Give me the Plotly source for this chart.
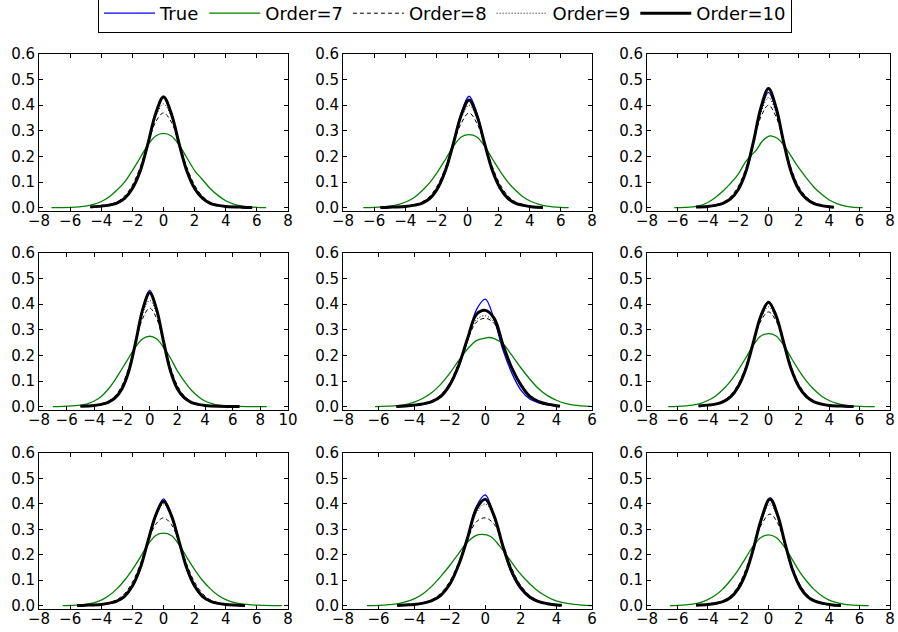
import plotly.graph_objects as go
from plotly.subplots import make_subplots

SERIES_NAMES = ["True", "Order=7", "Order=8", "Order=9", "Order=10"]
Y_TICKS = [0.0, 0.1, 0.2, 0.3, 0.4, 0.5, 0.6]
Y_TICK_LABELS = ["0.0", "0.1", "0.2", "0.3", "0.4", "0.5", "0.6"]

# x-axis tick values per panel (row-major)
P1_XTICKS = [-8, -6, -4, -2, 0, 2, 4, 6, 8]
P2_XTICKS = [-8, -6, -4, -2, 0, 2, 4, 6, 8]
P3_XTICKS = [-8, -6, -4, -2, 0, 2, 4, 6, 8]
P4_XTICKS = [-8, -6, -4, -2, 0, 2, 4, 6, 8, 10]
P5_XTICKS = [-8, -6, -4, -2, 0, 2, 4, 6]
P6_XTICKS = [-8, -6, -4, -2, 0, 2, 4, 6, 8]
P7_XTICKS = [-8, -6, -4, -2, 0, 2, 4, 6, 8]
P8_XTICKS = [-8, -6, -4, -2, 0, 2, 4, 6]
P9_XTICKS = [-8, -6, -4, -2, 0, 2, 4, 6, 8]

# ---------------- Panel 1 ----------------
P1_X = [-4.7, -4, -3.5, -3, -2.5, -2, -1.5, -1, -0.5, 0, 0.5, 1, 1.5, 2, 2.5, 3, 3.5, 4, 5, 5.7]
P1_TRUE = [0.002, 0.005, 0.009, 0.017, 0.035, 0.074, 0.144, 0.252, 0.37, 0.435, 0.37, 0.252, 0.144, 0.074, 0.035, 0.017, 0.009, 0.005, 0.001, 0.0]
P1_ORD10 = [0.003, 0.006, 0.010, 0.018, 0.036, 0.075, 0.142, 0.25, 0.368, 0.432, 0.368, 0.25, 0.143, 0.075, 0.037, 0.017, 0.009, 0.005, 0.002, 0.001]
P1_ORD9 = [0.003, 0.006, 0.011, 0.02, 0.04, 0.08, 0.148, 0.252, 0.355, 0.405, 0.355, 0.25, 0.148, 0.08, 0.04, 0.019, 0.01, 0.005, 0.002, 0.001]
P1_ORD8 = [0.003, 0.007, 0.012, 0.022, 0.045, 0.088, 0.158, 0.252, 0.335, 0.37, 0.335, 0.252, 0.158, 0.088, 0.045, 0.021, 0.011, 0.006, 0.002, 0.001]
P1_GX = [-7.2, -6, -5, -4.5, -4, -3.5, -3, -2.5, -2, -1.5, -1, -0.5, 0, 0.5, 1, 1.5, 2, 2.5, 3, 3.5, 4, 4.5, 5, 6, 6.6]
P1_ORD7 = [0.0, 0.001, 0.006, 0.013, 0.024, 0.042, 0.068, 0.1, 0.145, 0.195, 0.245, 0.28, 0.29, 0.28, 0.245, 0.195, 0.145, 0.11, 0.075, 0.048, 0.027, 0.014, 0.007, 0.001, 0.0]

# ---------------- Panel 2 ----------------
P2_X = [-5.6, -5, -4, -3.4, -2.9, -2.4, -1.9, -1.4, -0.9, -0.4, 0.1, 0.6, 1.1, 1.6, 2.1, 2.6, 3.1, 3.6, 4.1, 4.85]
P2_TRUE = [0.0, 0.001, 0.004, 0.009, 0.017, 0.035, 0.074, 0.144, 0.252, 0.37, 0.435, 0.37, 0.252, 0.144, 0.074, 0.035, 0.017, 0.009, 0.004, 0.001]
P2_ORD10 = [0.001, 0.002, 0.005, 0.01, 0.018, 0.037, 0.078, 0.148, 0.252, 0.362, 0.42, 0.36, 0.25, 0.145, 0.076, 0.036, 0.017, 0.009, 0.004, 0.001]
P2_ORD9 = [0.001, 0.002, 0.005, 0.011, 0.02, 0.04, 0.082, 0.152, 0.252, 0.35, 0.4, 0.35, 0.25, 0.15, 0.08, 0.04, 0.019, 0.01, 0.004, 0.001]
P2_ORD8 = [0.001, 0.003, 0.006, 0.012, 0.023, 0.046, 0.09, 0.16, 0.25, 0.33, 0.37, 0.33, 0.25, 0.16, 0.09, 0.046, 0.022, 0.011, 0.005, 0.001]
P2_GX = [-6.7, -6, -5, -4.4, -3.9, -3.4, -2.9, -2.4, -1.9, -1.4, -0.9, -0.4, 0.1, 0.6, 1.1, 1.6, 2.1, 2.6, 3.1, 3.6, 4.1, 4.6, 5.1, 6, 6.5]
P2_ORD7 = [0.0, 0.001, 0.006, 0.013, 0.024, 0.041, 0.067, 0.1, 0.142, 0.19, 0.24, 0.276, 0.285, 0.276, 0.24, 0.19, 0.142, 0.1, 0.067, 0.041, 0.024, 0.013, 0.006, 0.001, 0.0]

# ---------------- Panel 3 ----------------
P3_X = [-4.77, -4, -3.5, -3, -2.5, -2, -1.5, -1, -0.5, 0, 0.5, 1, 1.5, 2, 2.5, 3, 3.5, 4, 4.3]
P3_TRUE = [0.002, 0.004, 0.008, 0.016, 0.033, 0.07, 0.14, 0.255, 0.38, 0.45, 0.38, 0.255, 0.14, 0.07, 0.033, 0.016, 0.008, 0.004, 0.002]
P3_ORD10 = [0.003, 0.005, 0.009, 0.017, 0.034, 0.07, 0.138, 0.255, 0.39, 0.465, 0.39, 0.255, 0.138, 0.07, 0.034, 0.016, 0.008, 0.004, 0.002]
P3_ORD9 = [0.003, 0.006, 0.01, 0.019, 0.038, 0.076, 0.145, 0.255, 0.37, 0.43, 0.37, 0.255, 0.145, 0.076, 0.038, 0.018, 0.009, 0.004, 0.002]
P3_ORD8 = [0.003, 0.006, 0.011, 0.021, 0.042, 0.082, 0.152, 0.255, 0.355, 0.40, 0.355, 0.255, 0.152, 0.082, 0.042, 0.02, 0.01, 0.005, 0.002]
P3_GX = [-6.2, -5.5, -5, -4.5, -4, -3.5, -3, -2.5, -2, -1.5, -1.2, -0.8, -0.4, 0.1, 0.6, 1, 1.5, 2, 2.5, 3, 3.5, 4, 4.5, 5, 5.5, 6.2]
P3_ORD7 = [0.0, 0.001, 0.003, 0.008, 0.02, 0.04, 0.065, 0.095, 0.13, 0.18, 0.2, 0.225, 0.26, 0.28, 0.27, 0.245, 0.2, 0.155, 0.115, 0.08, 0.052, 0.03, 0.016, 0.007, 0.002, 0.0]

# ---------------- Panel 4 ----------------
P4_X = [-5, -4, -3.5, -3, -2.5, -2, -1.5, -1, -0.5, 0, 0.5, 1, 1.5, 2, 2.5, 3, 3.5, 4, 5, 6.5]
P4_TRUE = [0.001, 0.004, 0.008, 0.016, 0.032, 0.068, 0.138, 0.255, 0.385, 0.455, 0.385, 0.255, 0.138, 0.068, 0.032, 0.016, 0.008, 0.004, 0.001, 0.0]
P4_ORD10 = [0.002, 0.005, 0.009, 0.017, 0.034, 0.07, 0.14, 0.255, 0.38, 0.445, 0.38, 0.255, 0.14, 0.07, 0.035, 0.017, 0.009, 0.005, 0.002, 0.001]
P4_ORD9 = [0.002, 0.005, 0.01, 0.019, 0.037, 0.075, 0.146, 0.255, 0.365, 0.415, 0.365, 0.255, 0.146, 0.075, 0.037, 0.018, 0.009, 0.005, 0.002, 0.001]
P4_ORD8 = [0.002, 0.006, 0.011, 0.021, 0.042, 0.083, 0.155, 0.255, 0.345, 0.385, 0.345, 0.255, 0.155, 0.083, 0.042, 0.02, 0.01, 0.005, 0.002, 0.001]
P4_GX = [-7, -6, -5, -4.5, -4, -3.5, -3, -2.5, -2, -1.5, -1, -0.5, 0, 0.5, 1, 1.5, 2, 2.5, 3, 3.5, 4, 4.5, 5, 6, 7, 8.46]
P4_ORD7 = [0.0, 0.002, 0.006, 0.011, 0.022, 0.04, 0.068, 0.105, 0.148, 0.192, 0.235, 0.265, 0.275, 0.265, 0.232, 0.19, 0.14, 0.1, 0.065, 0.04, 0.022, 0.012, 0.006, 0.002, 0.0, 0.0]

# ---------------- Panel 5 ----------------
P5_X = [-5, -4.5, -4, -3.5, -3, -2.5, -2, -1.5, -1, -0.5, 0, 0.5, 1, 1.5, 2, 2.5, 3, 3.5, 4, 4.2]
P5_TRUE = [0.001, 0.002, 0.005, 0.009, 0.018, 0.038, 0.08, 0.155, 0.26, 0.378, 0.42, 0.34, 0.22, 0.13, 0.065, 0.03, 0.015, 0.007, 0.003, 0.002]
P5_ORD10 = [0.001, 0.003, 0.006, 0.011, 0.02, 0.04, 0.085, 0.16, 0.265, 0.36, 0.376, 0.345, 0.24, 0.15, 0.085, 0.04, 0.02, 0.01, 0.004, 0.002]
P5_ORD9 = [0.001, 0.003, 0.006, 0.012, 0.022, 0.043, 0.088, 0.165, 0.262, 0.34, 0.355, 0.33, 0.24, 0.152, 0.088, 0.043, 0.021, 0.01, 0.004, 0.002]
P5_ORD8 = [0.002, 0.004, 0.007, 0.013, 0.024, 0.046, 0.092, 0.17, 0.26, 0.33, 0.345, 0.325, 0.24, 0.155, 0.09, 0.045, 0.022, 0.011, 0.005, 0.002]
P5_GX = [-6.2, -5.5, -5, -4.5, -4, -3.5, -3, -2.5, -2, -1.5, -1, -0.5, 0, 0.2, 0.5, 1, 1.5, 2, 2.5, 3, 3.5, 4, 4.5, 5, 5.9]
P5_ORD7 = [0.0, 0.002, 0.004, 0.008, 0.018, 0.033, 0.055, 0.088, 0.13, 0.18, 0.225, 0.258, 0.268, 0.27, 0.266, 0.245, 0.2, 0.152, 0.108, 0.07, 0.043, 0.025, 0.013, 0.006, 0.001]

# ---------------- Panel 6 ----------------
P6_X = [-4.6, -4, -3.5, -3, -2.5, -2, -1.5, -1, -0.5, 0, 0.5, 1, 1.5, 2, 2.5, 3, 3.5, 4, 5, 5.6]
P6_TRUE = [0.002, 0.005, 0.009, 0.018, 0.037, 0.077, 0.145, 0.25, 0.355, 0.41, 0.355, 0.25, 0.145, 0.077, 0.037, 0.018, 0.009, 0.005, 0.001, 0.0]
P6_ORD10 = [0.003, 0.006, 0.01, 0.019, 0.038, 0.078, 0.146, 0.25, 0.355, 0.408, 0.355, 0.25, 0.146, 0.078, 0.039, 0.019, 0.01, 0.005, 0.002, 0.001]
P6_ORD9 = [0.003, 0.006, 0.011, 0.021, 0.041, 0.082, 0.15, 0.25, 0.345, 0.39, 0.345, 0.25, 0.15, 0.082, 0.041, 0.02, 0.01, 0.005, 0.002, 0.001]
P6_ORD8 = [0.003, 0.007, 0.012, 0.023, 0.045, 0.088, 0.156, 0.25, 0.335, 0.37, 0.335, 0.25, 0.156, 0.088, 0.045, 0.022, 0.011, 0.006, 0.002, 0.001]
P6_GX = [-6.6, -6, -5, -4.5, -4, -3.5, -3, -2.5, -2, -1.5, -1, -0.5, 0, 0.5, 1, 1.5, 2, 2.5, 3, 3.5, 4, 4.5, 5, 6, 7]
P6_ORD7 = [0.0, 0.001, 0.006, 0.012, 0.024, 0.041, 0.067, 0.1, 0.142, 0.19, 0.24, 0.276, 0.285, 0.276, 0.24, 0.19, 0.142, 0.1, 0.067, 0.041, 0.024, 0.013, 0.006, 0.001, 0.0]

# ---------------- Panel 7 ----------------
P7_X = [-5.56, -5, -4, -3.5, -3, -2.5, -2, -1.5, -1, -0.5, 0, 0.5, 1, 1.5, 2, 2.5, 3, 3.5, 4, 5.24]
P7_TRUE = [0.0, 0.001, 0.004, 0.009, 0.017, 0.036, 0.075, 0.145, 0.253, 0.36, 0.42, 0.36, 0.253, 0.145, 0.075, 0.036, 0.017, 0.009, 0.004, 0.0]
P7_ORD10 = [0.001, 0.002, 0.005, 0.01, 0.018, 0.037, 0.077, 0.147, 0.253, 0.355, 0.41, 0.355, 0.253, 0.147, 0.077, 0.037, 0.018, 0.009, 0.005, 0.001]
P7_ORD9 = [0.001, 0.002, 0.005, 0.01, 0.019, 0.04, 0.08, 0.15, 0.253, 0.35, 0.4, 0.35, 0.253, 0.15, 0.08, 0.04, 0.019, 0.01, 0.005, 0.001]
P7_ORD8 = [0.001, 0.003, 0.006, 0.012, 0.023, 0.048, 0.092, 0.162, 0.25, 0.32, 0.345, 0.32, 0.25, 0.162, 0.092, 0.048, 0.023, 0.012, 0.006, 0.001]
P7_GX = [-6.48, -6, -5, -4.5, -4, -3.5, -3, -2.5, -2, -1.5, -1, -0.5, 0, 0.5, 1, 1.5, 2, 2.5, 3, 3.5, 4, 4.5, 5, 6, 7, 7.6]
P7_ORD7 = [0.0, 0.001, 0.005, 0.011, 0.022, 0.04, 0.066, 0.1, 0.142, 0.19, 0.24, 0.276, 0.285, 0.276, 0.24, 0.19, 0.142, 0.1, 0.067, 0.041, 0.024, 0.013, 0.007, 0.002, 0.0, 0.0]

# ---------------- Panel 8 ----------------
P8_X = [-4.96, -4.5, -4, -3.5, -3, -2.5, -2, -1.5, -1, -0.5, 0, 0.5, 1, 1.5, 2, 2.5, 3, 3.5, 4, 4.3]
P8_TRUE = [0.001, 0.002, 0.005, 0.009, 0.019, 0.04, 0.082, 0.16, 0.27, 0.39, 0.435, 0.35, 0.225, 0.125, 0.064, 0.03, 0.014, 0.007, 0.003, 0.002]
P8_ORD10 = [0.001, 0.003, 0.005, 0.01, 0.02, 0.041, 0.084, 0.16, 0.265, 0.38, 0.418, 0.352, 0.232, 0.132, 0.07, 0.034, 0.016, 0.008, 0.003, 0.002]
P8_ORD9 = [0.001, 0.003, 0.006, 0.011, 0.021, 0.044, 0.088, 0.163, 0.265, 0.365, 0.4, 0.345, 0.235, 0.136, 0.072, 0.035, 0.017, 0.008, 0.004, 0.002]
P8_ORD8 = [0.002, 0.003, 0.006, 0.012, 0.024, 0.049, 0.095, 0.17, 0.26, 0.33, 0.345, 0.32, 0.24, 0.145, 0.079, 0.04, 0.019, 0.009, 0.004, 0.002]
P8_GX = [-6.65, -6, -5, -4.5, -4, -3.5, -3, -2.5, -2, -1.5, -1, -0.5, -0.2, 0.3, 0.8, 1.3, 1.8, 2.3, 2.8, 3.3, 3.8, 4.3, 5, 6]
P8_ORD7 = [0.0, 0.001, 0.007, 0.015, 0.027, 0.047, 0.077, 0.115, 0.158, 0.205, 0.25, 0.276, 0.28, 0.272, 0.235, 0.188, 0.14, 0.1, 0.067, 0.042, 0.024, 0.013, 0.005, 0.0]

# ---------------- Panel 9 ----------------
P9_X = [-4.77, -4, -3.5, -3, -2.5, -2, -1.5, -1, -0.5, 0.1, 0.6, 1.1, 1.6, 2.1, 2.6, 3.1, 3.6, 4.1, 4.77]
P9_TRUE = [0.001, 0.004, 0.008, 0.015, 0.03, 0.064, 0.125, 0.22, 0.332, 0.415, 0.353, 0.24, 0.137, 0.07, 0.033, 0.017, 0.008, 0.004, 0.001]
P9_ORD10 = [0.002, 0.005, 0.009, 0.016, 0.032, 0.066, 0.127, 0.222, 0.335, 0.42, 0.356, 0.242, 0.138, 0.071, 0.034, 0.017, 0.009, 0.004, 0.001]
P9_ORD9 = [0.002, 0.005, 0.009, 0.017, 0.034, 0.07, 0.132, 0.225, 0.33, 0.4, 0.345, 0.24, 0.14, 0.074, 0.036, 0.018, 0.009, 0.004, 0.001]
P9_ORD8 = [0.002, 0.005, 0.01, 0.019, 0.038, 0.077, 0.142, 0.23, 0.315, 0.36, 0.325, 0.238, 0.147, 0.08, 0.04, 0.02, 0.01, 0.005, 0.002]
P9_GX = [-6.5, -6, -5, -4.5, -4, -3.5, -3, -2.5, -2, -1.5, -1, -0.5, 0, 0.5, 1, 1.5, 2, 2.5, 3, 3.5, 4, 4.5, 5, 6, 6.6]
P9_ORD7 = [0.0, 0.001, 0.006, 0.012, 0.024, 0.041, 0.066, 0.1, 0.14, 0.188, 0.235, 0.268, 0.278, 0.268, 0.235, 0.188, 0.138, 0.097, 0.064, 0.039, 0.022, 0.012, 0.005, 0.001, 0.0]

panels = [
    (P1_X, P1_TRUE, P1_ORD8, P1_ORD9, P1_ORD10, P1_GX, P1_ORD7, P1_XTICKS),
    (P2_X, P2_TRUE, P2_ORD8, P2_ORD9, P2_ORD10, P2_GX, P2_ORD7, P2_XTICKS),
    (P3_X, P3_TRUE, P3_ORD8, P3_ORD9, P3_ORD10, P3_GX, P3_ORD7, P3_XTICKS),
    (P4_X, P4_TRUE, P4_ORD8, P4_ORD9, P4_ORD10, P4_GX, P4_ORD7, P4_XTICKS),
    (P5_X, P5_TRUE, P5_ORD8, P5_ORD9, P5_ORD10, P5_GX, P5_ORD7, P5_XTICKS),
    (P6_X, P6_TRUE, P6_ORD8, P6_ORD9, P6_ORD10, P6_GX, P6_ORD7, P6_XTICKS),
    (P7_X, P7_TRUE, P7_ORD8, P7_ORD9, P7_ORD10, P7_GX, P7_ORD7, P7_XTICKS),
    (P8_X, P8_TRUE, P8_ORD8, P8_ORD9, P8_ORD10, P8_GX, P8_ORD7, P8_XTICKS),
    (P9_X, P9_TRUE, P9_ORD8, P9_ORD9, P9_ORD10, P9_GX, P9_ORD7, P9_XTICKS),
]

W, H = 898, 632
COL_PX = [(39, 288), (343, 592), (647, 890)]
ROW_PX = [(54, 211), (253, 410), (453, 609)]

fig = make_subplots(rows=3, cols=3)

FONT = "DejaVu Sans, Liberation Sans, sans-serif"


def fmt_tick(v):
    return ("\u2212" + str(abs(v))) if v < 0 else str(v)


for i, (x, yt, y8, y9, y10, gx, y7, xt) in enumerate(panels):
    r, c = i // 3 + 1, i % 3 + 1
    show = i == 0
    fig.add_trace(go.Scatter(x=x, y=yt, mode="lines", name=SERIES_NAMES[0], showlegend=show,
                             legendrank=1, line=dict(color="#0000ff", width=1.3, shape="spline")), row=r, col=c)
    fig.add_trace(go.Scatter(x=gx, y=y7, mode="lines", name=SERIES_NAMES[1], showlegend=show,
                             legendrank=2, line=dict(color="#008000", width=1.3, shape="spline")), row=r, col=c)
    fig.add_trace(go.Scatter(x=x, y=y8, mode="lines", name=SERIES_NAMES[2], showlegend=show,
                             legendrank=3, line=dict(color="black", width=1, dash="4px,3px", shape="spline")), row=r, col=c)
    fig.add_trace(go.Scatter(x=x, y=y9, mode="lines", name=SERIES_NAMES[3], showlegend=show,
                             legendrank=4, line=dict(color="black", width=1, dash="1px,2px", shape="spline")), row=r, col=c)
    fig.add_trace(go.Scatter(x=x, y=y10, mode="lines", name=SERIES_NAMES[4], showlegend=show,
                             legendrank=5, line=dict(color="black", width=3, shape="spline")), row=r, col=c)

    x0, x1 = COL_PX[c - 1]
    y0, y1 = ROW_PX[r - 1]
    fig.update_xaxes(row=r, col=c,
                     domain=[x0 / W, x1 / W], automargin=False,
                     range=[xt[0] - 1e-6, xt[-1] + 1e-6], tickvals=xt, ticktext=[fmt_tick(v) for v in xt],
                     ticks="inside", ticklen=4, tickcolor="black", showline=True, linecolor="black",
                     linewidth=1, mirror="ticks", showgrid=False, zeroline=False,
                     ticklabeloverflow="allow", ticklabelstandoff=-4,
                     tickfont=dict(family=FONT, size=15, color="black"))
    fig.update_yaxes(row=r, col=c,
                     domain=[1 - y1 / H, 1 - y0 / H], automargin=False,
                     range=[-0.013, 0.6], tickvals=Y_TICKS, ticktext=Y_TICK_LABELS,
                     ticks="inside", ticklen=4, tickcolor="black", showline=True, linecolor="black",
                     linewidth=1, mirror="ticks", showgrid=False, zeroline=False,
                     tickfont=dict(family=FONT, size=15, color="black"))

fig.update_layout(
    width=W, height=H,
    margin=dict(l=0, r=0, t=0, b=0, autoexpand=False),
    paper_bgcolor="white", plot_bgcolor="white",
    font=dict(family=FONT, size=15, color="black"),
    showlegend=True,
    legend=dict(orientation="h", x=98 / W, y=1 + 6 / H, xanchor="left", yanchor="top",
                bordercolor="black", borderwidth=1, bgcolor="white",
                font=dict(family=FONT, size=18, color="black"), itemwidth=51,
                traceorder="normal"),
)

fig.write_html("out.html", config={"displayModeBar": False},
               post_script="document.body.style.margin='0px';")
